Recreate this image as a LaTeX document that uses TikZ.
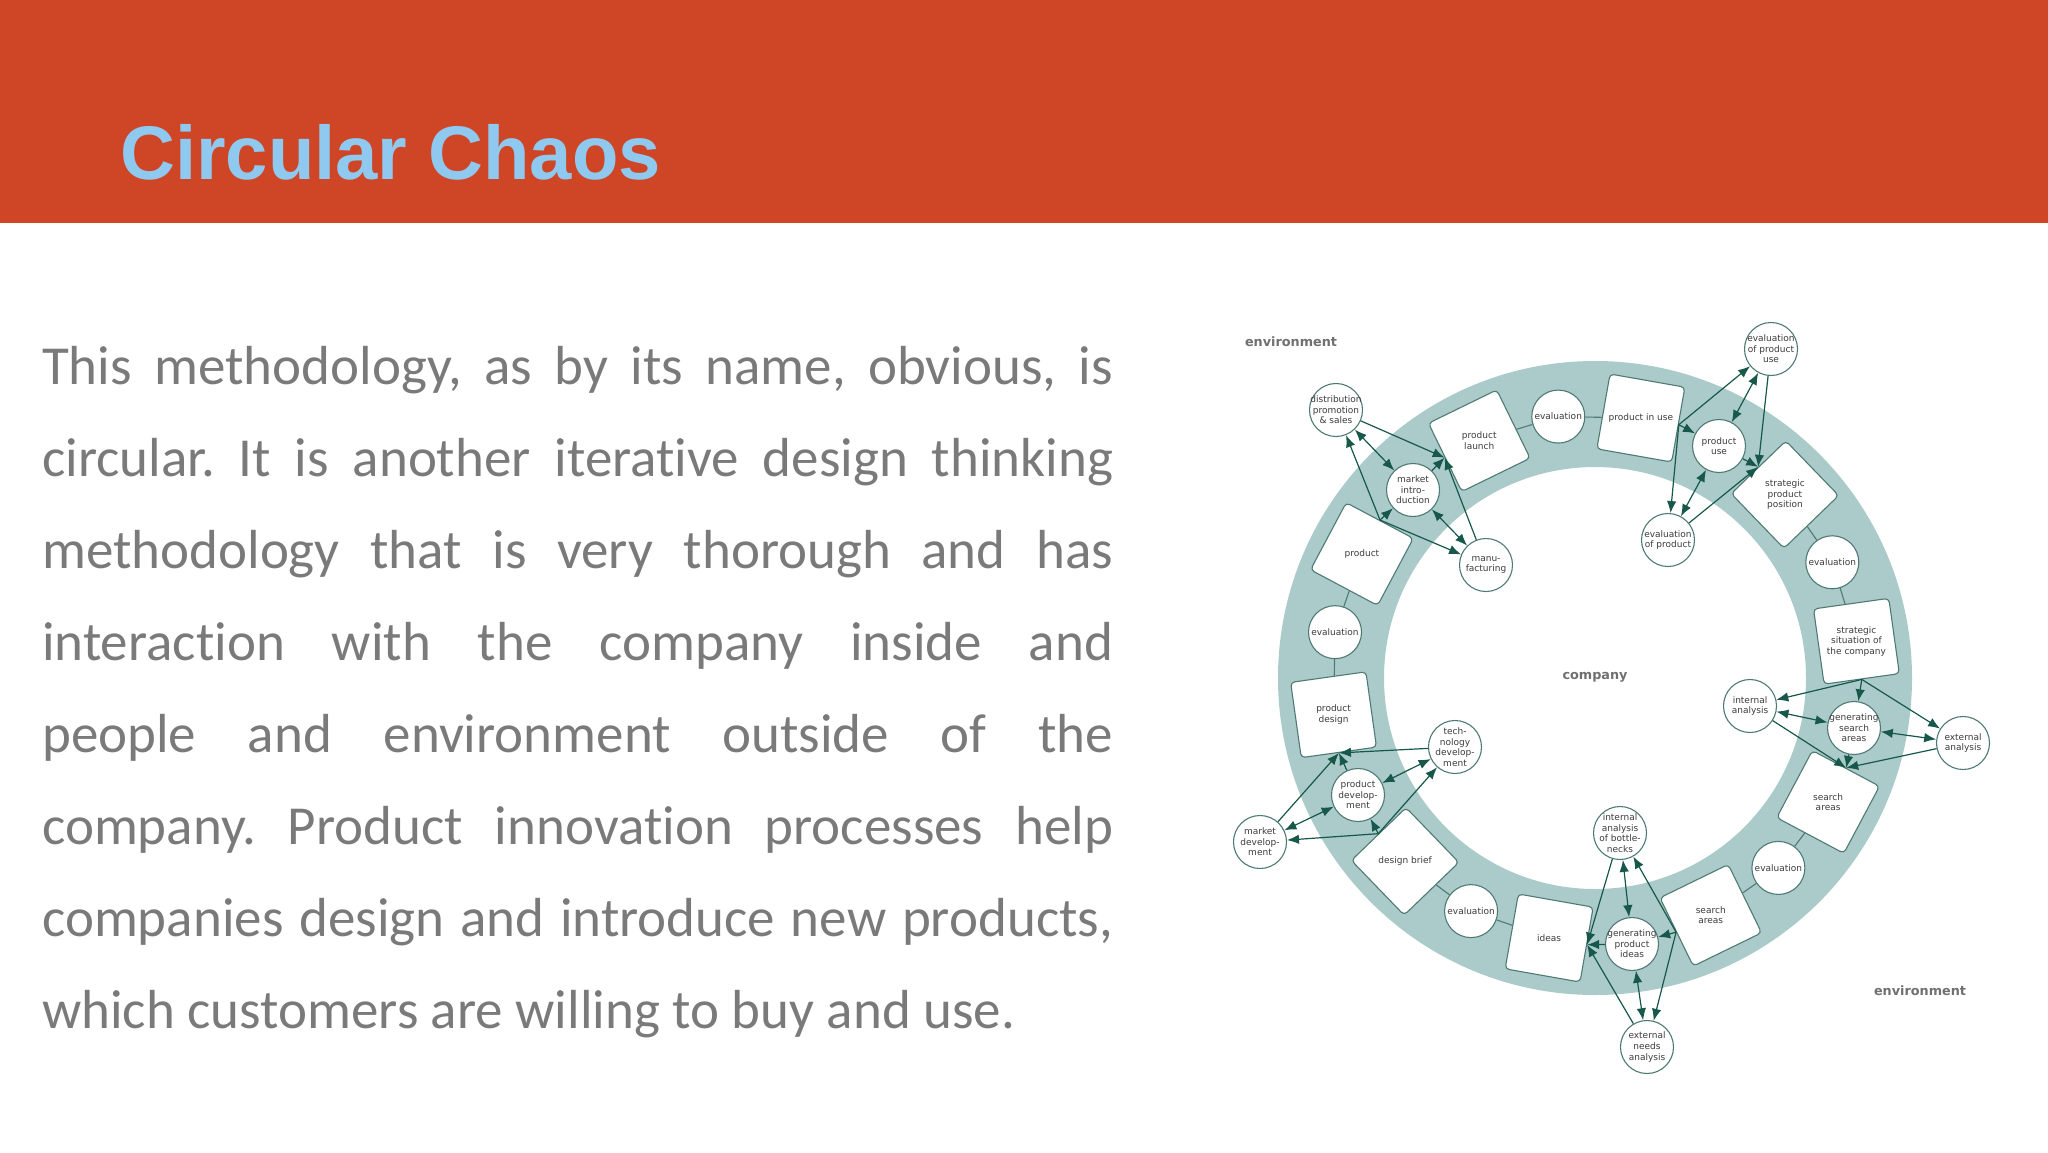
\documentclass[tikz,border=0pt]{standalone}
\usepackage{fontspec}
\setmainfont{Carlito}[Ligatures={NoCommon}]
\newfontfamily\titlefont{Liberation Sans}
\newfontfamily\dfont{DejaVu Sans}
\usetikzlibrary{arrows.meta,calc}
\definecolor{band}{HTML}{CF4626}
\definecolor{titlec}{HTML}{8FC9F0}
\definecolor{bodyc}{HTML}{7A7A7A}
\definecolor{ringc}{HTML}{AACBCA}
\definecolor{edgec}{HTML}{4F7A74}
\definecolor{arrc}{HTML}{17584A}
\definecolor{dtext}{HTML}{3C3C3C}
\definecolor{envc}{HTML}{707070}
\frenchspacing
\begin{document}
\begin{tikzpicture}[x=1pt,y=1pt,
  sqr/.style={draw=edgec, line width=1.1pt, fill=white, rounded corners=4pt,
    minimum width=76pt, minimum height=76pt, inner sep=0pt},
  circ/.style={draw=edgec, line width=1.1pt, fill=white, circle,
    minimum size=53pt, inner sep=0pt},
  lbl/.style={font=\dfont\fontsize{9}{10.6}\selectfont, text=dtext, align=center, inner sep=0pt},
  envlbl/.style={font=\dfont\bfseries\fontsize{12.8}{14}\selectfont, text=envc, inner sep=0pt},
  ringlink/.style={draw=edgec, line width=1.1pt},
  arr/.style={draw=arrc, line width=1.2pt, -{Latex[length=12pt,width=9.5pt]}},
  darr/.style={draw=arrc, line width=1.2pt, {Latex[length=12pt,width=9.5pt]}-{Latex[length=12pt,width=9.5pt]}},
  bodyline/.style={font=\fontsize{55}{66}\selectfont, text=bodyc, anchor=base west, inner sep=0pt},
]
\useasboundingbox (0,0) rectangle (2048,-1152);
\fill[white] (0,0) rectangle (2048,-1152);
% header
\fill[band] (0,0) rectangle (2048,-223);
\node[anchor=base west, inner sep=0pt, font=\titlefont\bfseries\fontsize{76}{80}\selectfont, text=titlec] (title) at (120,-179) {Circular Chaos};
% body text
\node[bodyline] (l1) at (42,-384) {\makebox[1071pt][s]{This methodology, as by its name, obvious, is}};
\node[bodyline] (l2) at (42,-476) {\makebox[1071pt][s]{circular. It is another iterative design thinking}};
\node[bodyline] (l3) at (42,-568) {\makebox[1071pt][s]{methodology that is very thorough and has}};
\node[bodyline] (l4) at (42,-660) {\makebox[1071pt][s]{interaction with the company inside and}};
\node[bodyline] (l5) at (42,-752) {\makebox[1071pt][s]{people and environment outside of the}};
\node[bodyline] (l6) at (42,-844) {\makebox[1071pt][s]{company. Product innovation processes help}};
\node[bodyline] (l7) at (42,-936) {\makebox[1071pt][s]{companies design and introduce new products,}};
\node[bodyline] (l8) at (42,-1028) {which customers are willing to buy and use.};
% ring
\coordinate (C) at (1595,-678);
\fill[ringc, even odd rule] (C) circle[radius=317] (C) circle[radius=211];
\node[envlbl] (env1) at (1291,-342) {environment};
\node[envlbl] (env2) at (1920,-991) {environment};
\node[envlbl] (company) at (1595,-677) {company};
% ring squares
\node[sqr, rotate=26]   (launch) at ($(C)+(116:264)$) {};
\node[sqr, rotate=-10]  (inuse)  at ($(C)+(80:264)$) {};
\node[sqr, rotate=-46]  (spp)    at ($(C)+(44:264)$) {};
\node[sqr, rotate=-82]  (ssc)    at ($(C)+(8:264)$) {};
\node[sqr, rotate=-118] (sar)    at ($(C)+(-28:264)$) {};
\node[sqr, rotate=-154] (sab)    at ($(C)+(-64:264)$) {};
\node[sqr, rotate=-190] (ideas)  at ($(C)+(-100:264)$) {};
\node[sqr, rotate=-226] (brief)  at ($(C)+(-136:264)$) {};
\node[sqr, rotate=-262] (pdes)   at ($(C)+(-172:264)$) {};
\node[sqr, rotate=62]   (prod)   at ($(C)+(152:264)$) {};
\node[lbl] (launch-t) at (launch) {product\\launch};
\node[lbl] (inuse-t) at (inuse) {product in use};
\node[lbl] (spp-t) at (spp) {strategic\\product\\position};
\node[lbl] (ssc-t) at (ssc) {strategic\\situation of\\the company};
\node[lbl] (sar-t) at (sar) {search\\areas};
\node[lbl] (sab-t) at (sab) {search\\areas};
\node[lbl] (ideas-t) at (ideas) {ideas};
\node[lbl] (brief-t) at (brief) {design brief};
\node[lbl] (pdes-t) at (pdes) {product\\design};
\node[lbl] (prod-t) at (prod) {product};
% evaluation circles
\foreach \n/\a in {ev1/98, ev2/26, ev3/-46, ev4/-118, ev5/170}{
  \node[circ] (\n) at ($(C)+(\a:264)$) {};
  \node[lbl] (\n-t) at (\n) {evaluation};
}
\draw[ringlink] (prod) -- (ev5) -- (pdes);
\draw[ringlink] (brief) -- (ev4) -- (ideas);
\draw[ringlink] (sab) -- (ev3) -- (sar);
\draw[ringlink] (ssc) -- (ev2) -- (spp);
\draw[ringlink] (inuse) -- (ev1) -- (launch);
% hub circles
\foreach \n/\x/\y/\t in {
  dist/1336/410/{distribution\\promotion\\\& sales},
  mint/1413/490/{market\\intro-\\duction},
  manu/1486/565/{manu-\\facturing},
  epu/1771/349/{evaluation\\of product\\use},
  puse/1719/446/{product\\use},
  eop/1668/540/{evaluation\\of product},
  ian/1750/706/{internal\\analysis},
  gsa/1854/728/{generating\\search\\areas},
  ean/1963/743/{external\\analysis},
  iab/1620/833/{internal\\analysis\\of bottle-\\necks},
  gpi/1632/944/{generating\\product\\ideas},
  ena/1647/1047/{external\\needs\\analysis},
  tech/1455/747/{tech-\\nology\\develop-\\ment},
  pdev/1358/795/{product\\develop-\\ment},
  mdev/1260/842/{market\\develop-\\ment}}{
  \node[circ] (\n) at (\x,-\y) {};
  \node[lbl] (\n-t) at (\n) {\t};
}
% hub connectors
\foreach \s/\t/\a/\b/\c in {prod/launch/dist/mint/manu, inuse/spp/epu/puse/eop,
    ssc/sar/ian/gsa/ean, sab/ideas/iab/gpi/ena, brief/pdes/tech/pdev/mdev}{
  \draw[arr] (\s.east) -- (\a);
  \draw[arr] (\s.east) -- (\b);
  \draw[arr] (\s.east) -- (\c);
  \draw[darr] (\a) -- (\b);
  \draw[darr] (\b) -- (\c);
  \draw[arr] (\a) -- (\t.west);
  \draw[arr] (\b) -- (\t.west);
  \draw[arr] (\c) -- (\t.west);
}
\end{tikzpicture}
\end{document}
